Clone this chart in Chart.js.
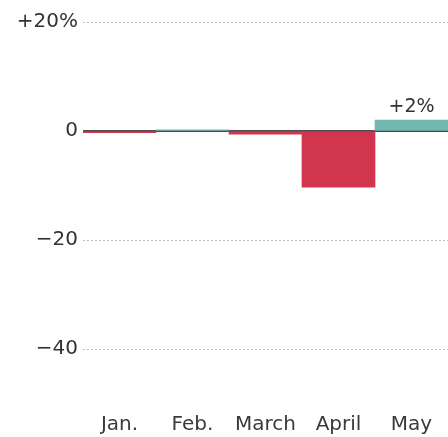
<!DOCTYPE html>
<html>
<head>
<meta charset="utf-8">
<script src="https://cdn.jsdelivr.net/npm/chart.js@4/dist/chart.umd.min.js"></script>
<style>
  html, body { margin: 0; padding: 0; background: #ffffff; }
  canvas { display: block; }
</style>
</head>
<body>
<canvas id="chart" width="448" height="437"></canvas>
<script>
// Monthly change, in percent
const months = ['Jan.', 'Feb.', 'March', 'April', 'May'];
const changes = [-0.3, 0.2, -0.6, -10.3, 2];
const valueLabels = ['', '', '', '', '+2%'];

// Vertical axis
const yTickValues = [20, 0, -20, -40];
const yTickLabels = ['+20%', '0', '\u221220', '\u221240'];
const yMin = -51;
const yMax = 20;

const RED = '#d2364f';
const TEAL = '#72b8b0';
const FONT = '"DejaVu Sans", sans-serif';

// Solid baseline at zero, under the bars
const zeroLine = {
  id: 'zeroLine',
  beforeDatasetsDraw(chart) {
    const { ctx, chartArea, scales } = chart;
    const y = scales.y.getPixelForValue(0);
    ctx.save();
    ctx.fillStyle = '#4a4a4a';
    ctx.fillRect(chartArea.left, y - 1, chartArea.right - chartArea.left, 2);
    ctx.restore();
  }
};

// Value label above a bar
const barLabels = {
  id: 'barLabels',
  afterDatasetsDraw(chart) {
    const { ctx } = chart;
    const meta = chart.getDatasetMeta(0);
    ctx.save();
    ctx.font = '19px ' + FONT;
    ctx.fillStyle = '#333333';
    ctx.textAlign = 'center';
    ctx.textBaseline = 'bottom';
    meta.data.forEach((bar, i) => {
      const text = valueLabels[i];
      if (!text) return;
      ctx.fillText(text, bar.x, bar.y - 4);
    });
    ctx.restore();
  }
};

new Chart(document.getElementById('chart'), {
  type: 'bar',
  data: {
    labels: months,
    datasets: [{
      data: changes,
      backgroundColor: changes.map(v => v < 0 ? RED : TEAL),
      borderWidth: 0,
      borderSkipped: false,
      barPercentage: 1,
      categoryPercentage: 1
    }]
  },
  options: {
    responsive: false,
    animation: false,
    layout: { padding: { top: 22, right: 0, bottom: 0, left: 0 } },
    plugins: {
      legend: { display: false },
      tooltip: { enabled: false }
    },
    scales: {
      x: {
        offset: true,
        grid: { display: false, drawTicks: false },
        border: { display: false },
        ticks: {
          color: '#3a3a3a',
          font: { family: FONT, size: 20 },
          padding: 4,
          maxRotation: 0
        },
        afterFit(scale) { scale.height = 28; }
      },
      y: {
        min: yMin,
        max: yMax,
        afterBuildTicks(scale) {
          scale.ticks = yTickValues.map(v => ({ value: v }));
        },
        grid: {
          drawTicks: false,
          color: ctx => (ctx.tick && ctx.tick.value === 0) ? 'rgba(0,0,0,0)' : '#bdbdbd',
          lineWidth: 1
        },
        border: { display: false, dash: [2, 2] },
        ticks: {
          color: '#333333',
          font: { family: FONT, size: 20 },
          padding: 5,
          callback(value) {
            const i = yTickValues.indexOf(value);
            return i >= 0 ? yTickLabels[i] : '';
          }
        },
        afterFit(scale) { scale.width = 83; }
      }
    }
  },
  plugins: [zeroLine, barLabels]
});
</script>
</body>
</html>
